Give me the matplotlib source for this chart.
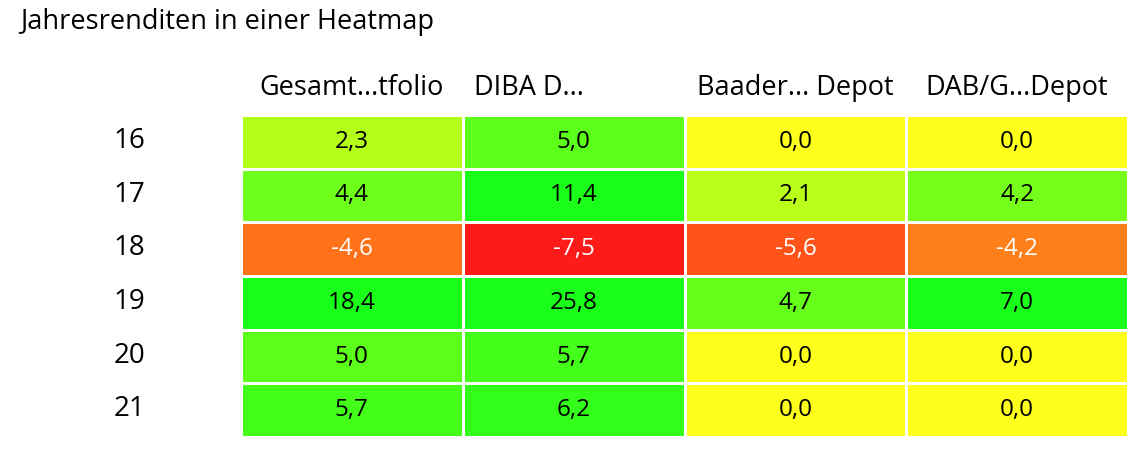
import matplotlib.pyplot as plt
import numpy as np
from matplotlib.colors import LinearSegmentedColormap, TwoSlopeNorm

plt.rcParams['font.family'] = ['Open Sans', 'DejaVu Sans']

jahre = ['16', '17', '18', '19', '20', '21']
spalten = ['Gesamt...tfolio', 'DIBA D...', 'Baader... Depot', 'DAB/G...Depot']
gesamt = [2.3, 4.4, -4.6, 18.4, 5.0, 5.7]
diba = [5.0, 11.4, -7.5, 25.8, 5.7, 6.2]
baader = [0.0, 2.1, -5.6, 4.7, 0.0, 0.0]
dab = [0.0, 4.2, -4.2, 7.0, 0.0, 0.0]

werte = np.array([gesamt, diba, baader, dab]).T

cmap = LinearSegmentedColormap.from_list('ryg', ['#ff1a1a', '#ffff1a', '#1aff1a'])
norm = TwoSlopeNorm(vmin=-7.5, vcenter=0, vmax=7.0)

fig = plt.figure(figsize=(11.41, 4.59), dpi=100)
ax = fig.add_axes([241/1141, 22/459, 887/1141, 322/459])
ax.pcolormesh(werte, cmap=cmap, norm=norm, edgecolors='white', linewidth=2)
ax.set_xlim(0, 4)
ax.set_ylim(6, 0)

for i in range(len(jahre)):
    for j in range(len(spalten)):
        v = werte[i, j]
        ax.text(j + 0.5, i + 0.5, f'{v:.1f}'.replace('.', ','), ha='center', va='center',
                fontsize=17.5, color='white' if v < 0 else 'black')

ax.set_xticks([])
ax.set_yticks(np.arange(len(jahre)) + 0.42)
ax.set_yticklabels(jahre, fontsize=20)
ax.tick_params(axis='y', length=0, pad=69)
for s in ax.spines.values():
    s.set_visible(False)

for j, name in enumerate(spalten):
    if j == 1:
        ax.text(j + 0.05, -0.5, name, ha='left', va='center', fontsize=19.5)
    else:
        ax.text(j + 0.5, -0.5, name, ha='center', va='center', fontsize=19.5)

fig.text(20/1141, 1 - 22/459, 'Jahresrenditen in einer Heatmap', ha='left', va='center', fontsize=19.5)

fig.savefig('out.png', dpi=100)
